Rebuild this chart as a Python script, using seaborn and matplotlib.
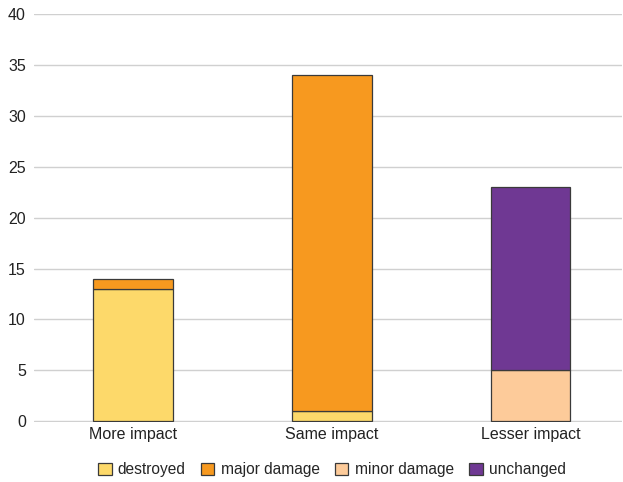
import matplotlib
matplotlib.use("Agg")
import matplotlib.pyplot as plt
import seaborn as sns
import numpy as np
from matplotlib.patches import Patch

categories = ["More impact", "Same impact", "Lesser impact"]
series_names = ["destroyed", "major damage", "minor damage", "unchanged"]
destroyed = [13, 1, 0]
major_damage = [1, 33, 0]
minor_damage = [0, 0, 5]
unchanged = [0, 0, 18]
colors = ["#FDD96A", "#F7991F", "#FDCB9A", "#6F3893"]
y_ticks = [0, 5, 10, 15, 20, 25, 30, 35, 40]

sns.set_theme(style="white")
plt.rcParams["font.family"] = ["Liberation Sans", "DejaVu Sans"]

fig = plt.figure(figsize=(6.23, 4.82), dpi=100)
ax = fig.add_axes([0.055, 0.125, 0.943, 0.846])

series = [destroyed, major_damage, minor_damage, unchanged]
bottom = np.zeros(len(categories))
for name, vals, col in zip(series_names, series, colors):
    vals = np.array(vals, dtype=float)
    sns.barplot(x=categories, y=vals, bottom=bottom, color=col, saturation=1,
                width=0.40, edgecolor="#3a3a3a", linewidth=0.9, ax=ax, zorder=3)
    bottom = bottom + vals

# hide zero-height segments
for p in ax.patches:
    if p.get_height() == 0:
        p.set_visible(False)

ax.set_ylim(-0.05, 40)
ax.set_yticks(y_ticks)
ax.set_xlim(-0.497, 2.458)
ax.yaxis.grid(True, color="#d0d0d0", linewidth=1.0, zorder=0)
ax.xaxis.grid(False)
for s in ax.spines.values():
    s.set_visible(False)
ax.tick_params(axis="both", length=0, labelsize=11.5, colors="#222222", pad=4)
ax.tick_params(axis="y", pad=6)

handles = [Patch(facecolor=c, edgecolor="#3a3a3a", linewidth=0.9) for c in colors]
fig.legend(handles, series_names, loc="center", bbox_to_anchor=(0.533, 0.025),
           ncol=4, frameon=False, fontsize=11.2, handlelength=0.85, handleheight=0.85,
           handletextpad=0.4, columnspacing=1.0)

fig.savefig("out.png", dpi=100)
